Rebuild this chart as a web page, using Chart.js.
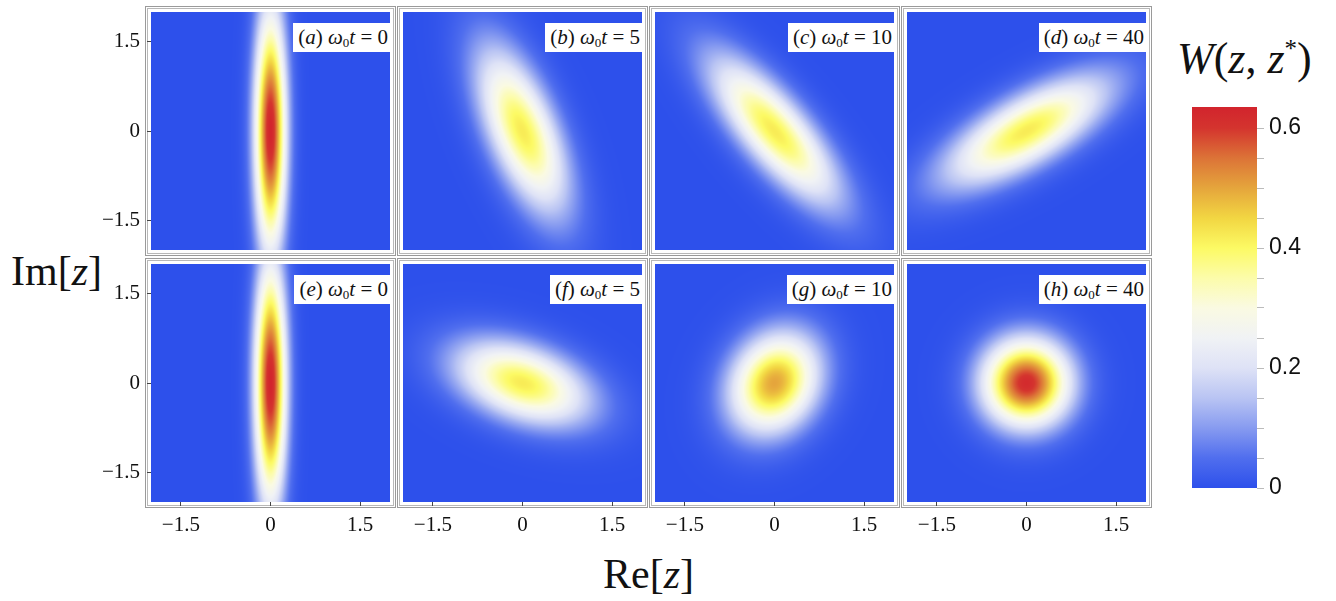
<!DOCTYPE html>
<html lang="en">
<head>
<meta charset="UTF-8">
<title>Wigner function snapshots</title>
<script src="https://cdn.jsdelivr.net/npm/chart.js"></script>
<style>
  body { margin:0; background:#fff; width:1336px; height:601px; position:relative; overflow:hidden; font-family:"Liberation Serif", "DejaVu Serif", serif; color:#111; }
  .frame { position:absolute; border:1px solid #9a9a9a; box-sizing:border-box; }
  .frame div { position:absolute; left:1px; top:1px; right:1px; bottom:1px; border:1px solid #b8b8b8; }
  canvas { position:absolute; }
  .tag { position:absolute; background:#fff; font-size:21px; line-height:29px; height:29px; padding:0 2px 0 5px; white-space:nowrap; }
  .tag sub { font-size:13px; vertical-align:-3px; line-height:0; }
  .big { position:absolute; font-size:42px; white-space:nowrap; }
</style>
</head>
<body>

<div class="big" style="left:11px; top:247px;">Im[<i>z</i>]</div>
<div class="big" style="left:603px; top:550px;">Re[<i>z</i>]</div>
<div class="big" style="left:1177px; top:33px; font-size:44px;"><i>W</i>(<i>z</i>, <i>z</i><sup style="font-size:25px; vertical-align:16px; line-height:0;">*</sup>)</div>

<script>
    // panel data
    const panelTags = ['a', 'b', 'c', 'd', 'e', 'f', 'g', 'h'];
    const panelTimes = [0, 5, 10, 40, 0, 5, 10, 40];
    const peakValue = [0.636, 0.42, 0.42, 0.42, 0.636, 0.42, 0.50, 0.62];
    const majorWidth = [1.40, 1.00, 1.05, 1.05, 1.40, 0.80, 0.60, 0.50];
    const minorWidth = [0.18, 0.38, 0.36, 0.38, 0.18, 0.42, 0.48, 0.50];
    const tiltAngle = [90, -68, -50, 30, 90, -20, 60, 0];   // degrees, major axis
    const axisTicks = [-1.5, 0, 1.5];
    const colorbarTicks = [0, 0.05, 0.1, 0.15, 0.2, 0.25, 0.3, 0.35, 0.4, 0.45, 0.5, 0.55, 0.6];
    const colorbarLabels = [0, 0.2, 0.4, 0.6];
    const wMax = 0.635;

    // colour map: blue -> white -> yellow -> red
    const mapStops = [
        [0.00, [45, 80, 235]], [0.05, [80, 110, 238]], [0.10, [135, 155, 240]],
        [0.15, [185, 196, 243]], [0.20, [222, 226, 246]], [0.25, [240, 242, 245]],
        [0.30, [250, 250, 226]], [0.35, [252, 252, 170]], [0.40, [252, 250, 100]],
        [0.45, [242, 214, 66]], [0.50, [229, 165, 60]], [0.55, [220, 115, 55]],
        [0.60, [212, 52, 46]], [0.635, [210, 36, 45]]
    ];

    function colorOf(w) {
        if (w <= mapStops[0][0]) return mapStops[0][1];
        for (let i = 1; i < mapStops.length; i++) {
            if (w <= mapStops[i][0]) {
                const a = mapStops[i - 1], b = mapStops[i];
                const t = (w - a[0]) / (b[0] - a[0]);
                return [0, 1, 2].map(c => a[1][c] + t * (b[1][c] - a[1][c]));
            }
        }
        return mapStops[mapStops.length - 1][1];
    }

    function wigner(k, x, y) {
        const th = tiltAngle[k] * Math.PI / 180;
        const u = x * Math.cos(th) + y * Math.sin(th);
        const v = -x * Math.sin(th) + y * Math.cos(th);
        const a = majorWidth[k], b = minorWidth[k];
        return peakValue[k] * Math.exp(-u * u / (2 * a * a) - v * v / (2 * b * b));
    }

    // draws the density map into the chart area using the chart's scales
    const heatmapPlugin = {
        id: 'heatmap',
        beforeDatasetsDraw(chart, args, opts) {
            const k = opts.panel;
            const xs = chart.scales.x, ys = chart.scales.y;
            const x0 = xs.getPixelForValue(xs.min), x1 = xs.getPixelForValue(xs.max);
            const y0 = ys.getPixelForValue(ys.max), y1 = ys.getPixelForValue(ys.min);
            const nx = Math.round(x1 - x0), ny = Math.round(y1 - y0);
            const off = document.createElement('canvas');
            off.width = nx; off.height = ny;
            const octx = off.getContext('2d');
            const img = octx.createImageData(nx, ny);
            for (let j = 0; j < ny; j++) {
                const y = ys.getValueForPixel(y0 + j + 0.5);
                for (let i = 0; i < nx; i++) {
                    const x = xs.getValueForPixel(x0 + i + 0.5);
                    const c = colorOf(wigner(k, x, y));
                    const p = (j * nx + i) * 4;
                    img.data[p] = c[0]; img.data[p + 1] = c[1]; img.data[p + 2] = c[2]; img.data[p + 3] = 255;
                }
            }
            octx.putImageData(img, 0, 0);
            chart.ctx.drawImage(off, x0, y0, x1 - x0, y1 - y0);
        }
    };

    const colorbarPlugin = {
        id: 'colorbar',
        beforeDatasetsDraw(chart) {
            const ys = chart.scales.y, area = chart.chartArea, ctx = chart.ctx;
            const g = ctx.createLinearGradient(0, ys.getPixelForValue(0), 0, ys.getPixelForValue(wMax));
            mapStops.forEach(s => {
                g.addColorStop(Math.min(s[0] / wMax, 1), 'rgb(' + s[1].map(Math.round).join(',') + ')');
            });
            ctx.fillStyle = g;
            ctx.fillRect(area.left, ys.getPixelForValue(wMax), area.right - area.left, ys.getPixelForValue(0) - ys.getPixelForValue(wMax));
        }
    };

    function fmt(v) {
        if (v === 0) return '0';
        return (v < 0 ? '\u2212' : '') + Math.abs(v);
    }

    function axisOpts(show, size) {
        return {
            type: 'linear', min: -2, max: 2, display: show,
            afterBuildTicks: s => { s.ticks = axisTicks.map(v => ({ value: v })); },
            afterFit: s => { if (s.isHorizontal()) s.height = size; else s.width = size; },
            grid: { drawOnChartArea: false, drawTicks: true, tickLength: 4, color: '#444', lineWidth: 1 },
            border: { display: false },
            ticks: {
                font: { family: '"Liberation Serif", serif', size: 21 }, color: '#111',
                padding: 7, maxRotation: 0, autoSkip: false, callback: v => fmt(v)
            }
        };
    }

    const lefts = [151, 403, 655, 907];
    const tops = [12, 264];
    const pw = 239, ph = 238, M = 30;

    for (let k = 0; k < 8; k++) {
        const col = k % 4, row = Math.floor(k / 4);
        const pl = lefts[col], pt = tops[row];
        const yW = col === 0 ? 60 : 0;
        const xH = row === 1 ? 34 : 0;

        const frame = document.createElement('div');
        frame.className = 'frame';
        frame.style.cssText = `left:${pl - 6}px; top:${pt - 6}px; width:${pw + 12}px; height:${ph + 12}px;`;
        frame.appendChild(document.createElement('div'));
        document.body.appendChild(frame);

        const cv = document.createElement('canvas');
        cv.width = pw + yW + 2 * M;
        cv.height = ph + xH + 2 * M;
        cv.style.left = (pl - yW - M) + 'px';
        cv.style.top = (pt - M) + 'px';
        document.body.appendChild(cv);

        new Chart(cv, {
            type: 'scatter',
            data: { datasets: [{ data: [] }] },
            options: {
                responsive: false, animation: false, devicePixelRatio: 1,
                layout: { padding: M },
                plugins: { legend: { display: false }, tooltip: { enabled: false }, heatmap: { panel: k } },
                scales: { x: axisOpts(row === 1, xH), y: axisOpts(col === 0, yW) }
            },
            plugins: [heatmapPlugin]
        });

        const tag = document.createElement('div');
        tag.className = 'tag';
        tag.innerHTML = `(<i>${panelTags[k]}</i>) <i>ω</i><sub>0</sub><i>t</i> = ${panelTimes[k]}`;
        tag.style.top = (pt + 11) + 'px';
        tag.style.right = (1336 - pl - pw) + 'px';
        document.body.appendChild(tag);
    }

    // colour bar
    const cb = document.createElement('canvas');
    cb.width = 10 + 65 + 75 + 5;
    cb.height = 30 + 381 + 30;
    cb.style.left = '1182px';
    cb.style.top = '77px';
    document.body.appendChild(cb);

    new Chart(cb, {
        type: 'scatter',
        data: { datasets: [{ data: [] }] },
        options: {
            responsive: false, animation: false, devicePixelRatio: 1,
            layout: { padding: { left: 10, top: 30, right: 5, bottom: 30 } },
            plugins: { legend: { display: false }, tooltip: { enabled: false } },
            scales: {
                x: { display: false, min: 0, max: 1 },
                y: {
                    position: 'right', min: 0, max: wMax,
                    afterBuildTicks: s => { s.ticks = colorbarTicks.map(v => ({ value: v })); },
                    afterFit: s => { s.width = 75; },
                    grid: { drawOnChartArea: false, drawTicks: true, tickLength: 7, color: '#bbb' },
                    border: { display: false },
                    ticks: {
                        font: { family: '"Liberation Sans", Arial, sans-serif', size: 23 }, color: '#111',
                        padding: 5, autoSkip: false,
                        callback: v => colorbarLabels.some(l => Math.abs(l - v) < 1e-6) ? String(+v.toFixed(1)) : ''
                    }
                }
            }
        },
        plugins: [colorbarPlugin]
    });
</script>
</body>
</html>
